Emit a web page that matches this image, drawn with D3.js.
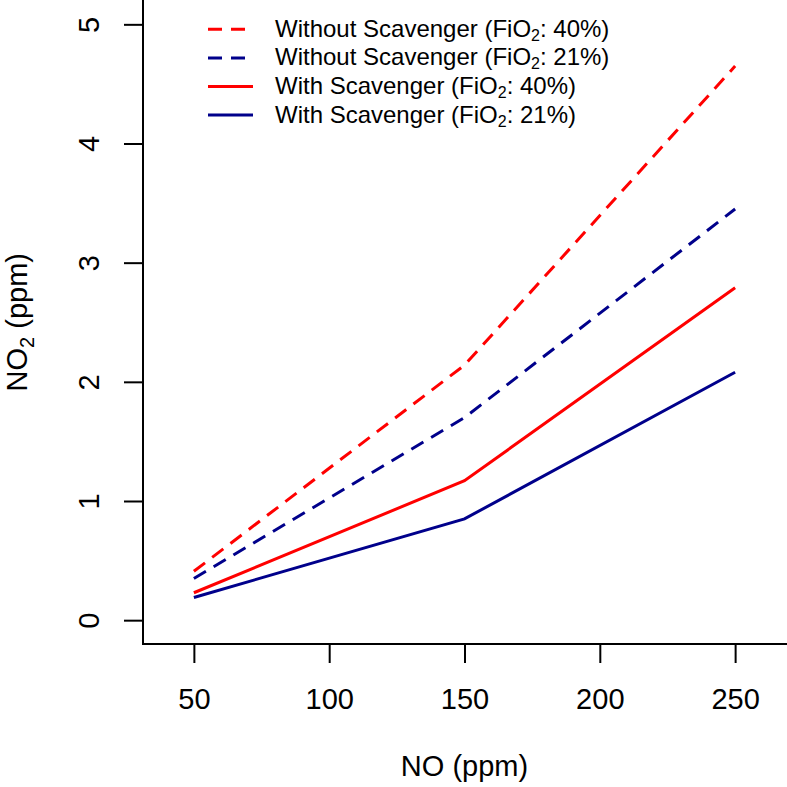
<!DOCTYPE html>
<html>
<head>
<meta charset="utf-8">
<script src="https://cdn.jsdelivr.net/npm/d3@7"></script>
<style>
  html, body { margin: 0; padding: 0; background: #fff; }
  svg { display: block; font-family: "Liberation Sans", Arial, Helvetica, sans-serif; }
</style>
</head>
<body>
<svg id="chart" width="787" height="787"></svg>
<script>
// ---- data ----
const noLevels = [50, 150, 250];
const withoutScav40 = [0.41, 2.14, 4.65];
const withoutScav21 = [0.35, 1.70, 3.45];
const withScav40 = [0.23, 1.17, 2.79];
const withScav21 = [0.19, 0.85, 2.08];
const xTicks = [50, 100, 150, 200, 250];
const yTicks = [0, 1, 2, 3, 4, 5];
const seriesNames = ["Without Scavenger", "Without Scavenger", "With Scavenger", "With Scavenger"];
const seriesFiO2 = ["40%", "21%", "40%", "21%"];

const series = [
  { name: seriesNames[0], fio2: seriesFiO2[0], values: withoutScav40, color: "#FF0000", dashed: true },
  { name: seriesNames[1], fio2: seriesFiO2[1], values: withoutScav21, color: "#00008B", dashed: true },
  { name: seriesNames[2], fio2: seriesFiO2[2], values: withScav40, color: "#FF0000", dashed: false },
  { name: seriesNames[3], fio2: seriesFiO2[3], values: withScav21, color: "#00008B", dashed: false }
];

const svg = d3.select("#chart");

// plot region (R style, 4% expansion around xlim 40-260 / ylim 0-5)
const boxLeft = 143, boxBottom = 644, boxRight = 786, boxTop = 0;
const x = d3.scaleLinear().domain([31.2, 268.8]).range([boxLeft, boxRight]);
const y = d3.scaleLinear().domain([-0.2, 5.2]).range([boxBottom, boxTop + 0.5]);

// box (left and bottom visible)
svg.append("path")
  .attr("d", `M${boxLeft},${boxTop} L${boxLeft},${boxBottom} L${787},${boxBottom}`)
  .attr("fill", "none").attr("stroke", "#000").attr("stroke-width", 2);

// x axis
const fsTick = 29;
const xAxis = svg.append("g")
  .attr("transform", `translate(0,${boxBottom})`)
  .call(d3.axisBottom(x).tickValues(xTicks).tickSize(19).tickPadding(25).tickFormat(d3.format("d")));
xAxis.select(".domain").remove();
xAxis.selectAll(".tick line").attr("stroke", "#000").attr("stroke-width", 2);
xAxis.selectAll(".tick text").attr("font-size", fsTick).attr("fill", "#000")
  .attr("font-family", "Liberation Sans, Arial, sans-serif");

// y axis
const yAxis = svg.append("g")
  .attr("transform", `translate(${boxLeft},0)`)
  .call(d3.axisLeft(y).tickValues(yTicks).tickSize(19).tickFormat(d3.format("d")));
yAxis.select(".domain").remove();
yAxis.selectAll(".tick line").attr("stroke", "#000").attr("stroke-width", 2);
yAxis.selectAll(".tick text")
  .attr("font-size", fsTick).attr("fill", "#000")
  .attr("font-family", "Liberation Sans, Arial, sans-serif")
  .attr("transform", "rotate(-90)")
  .attr("x", 0).attr("y", -44).attr("dy", 0)
  .attr("text-anchor", "middle");

// axis titles
svg.append("text")
  .attr("x", x(150)).attr("y", 776)
  .attr("text-anchor", "middle").attr("font-size", 29).attr("fill", "#000")
  .text("NO (ppm)");

const yt = svg.append("text")
  .attr("transform", `translate(27,${(y(0) + y(5)) / 2}) rotate(-90)`)
  .attr("text-anchor", "middle").attr("font-size", 29).attr("fill", "#000");
yt.append("tspan").text("NO");
yt.append("tspan").attr("font-size", 20).attr("dy", 7).text("2");
yt.append("tspan").attr("dy", -7).text(" (ppm)");

// lines
const line = d3.line().x((d, i) => x(noLevels[i])).y(d => y(d));
svg.append("g").selectAll("path").data(series).join("path")
  .attr("d", d => line(d.values))
  .attr("fill", "none")
  .attr("stroke", d => d.color)
  .attr("stroke-width", 3)
  .attr("stroke-dasharray", d => d.dashed ? "14,9" : null);

// legend
const legY0 = 29.3, legStep = 28.6;
const leg = svg.append("g").selectAll("g").data(series).join("g")
  .attr("transform", (d, i) => `translate(0,${legY0 + i * legStep})`);
leg.append("line")
  .attr("x1", 208).attr("x2", 253).attr("y1", 0).attr("y2", 0)
  .attr("stroke", d => d.color).attr("stroke-width", 3)
  .attr("stroke-dasharray", d => d.dashed ? "14,9" : null);
const lt = leg.append("text")
  .attr("x", 275).attr("y", 7.5)
  .attr("font-size", 24).attr("fill", "#000");
lt.append("tspan").text(d => `${d.name} (FiO`);
lt.append("tspan").attr("font-size", 16).attr("dy", 4).text("2");
lt.append("tspan").attr("dy", -4).text(d => `: ${d.fio2})`);
</script>
</body>
</html>
